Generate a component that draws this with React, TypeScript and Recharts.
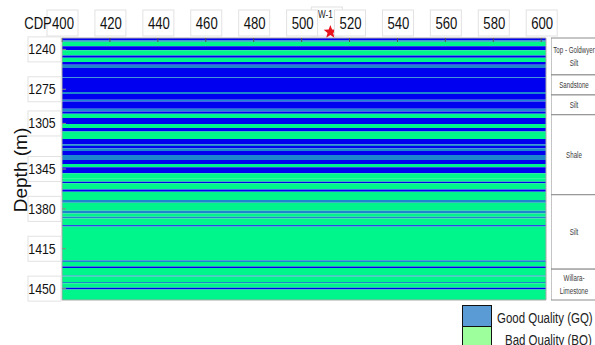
import React from "react";
import { ComposedChart, XAxis, YAxis, ReferenceArea, Scatter } from "recharts";

const cdpTicks = [400, 420, 440, 460, 480, 500, 520, 540, 560, 580, 600];
const depthTicks = [1240, 1275, 1305, 1345, 1380, 1415, 1450];

const bandEdges = [
  1230, 1231.9, 1233.3, 1237.2, 1240.8, 1245.4, 1247.4, 1251.0, 1253.4, 1256.3,
  1264.4, 1265.2, 1277.4, 1279.2, 1284.2, 1285.7, 1292.1, 1294.5, 1296.5, 1300.3,
  1305.6, 1309.1, 1312.1, 1318.6, 1323.2, 1324.7, 1326.8, 1329.1, 1332.7, 1337.1,
  1340.6, 1343.5, 1348.8, 1353.2, 1356.2, 1357.6, 1362.9, 1365.0, 1372.3, 1374.7,
  1381.7, 1384.0, 1387.0, 1388.4, 1394.3, 1395.5, 1425.2, 1426.7, 1430.5, 1432.0,
  1438.4, 1439.3, 1444.3, 1445.2, 1449.2, 1450.7, 1460,
];
const bandClass = [
  "GQ", "MX", "BQ", "GQ", "BQ", "GQ", "BQ", "GQ", "MX", "GQ",
  "MX", "GQ", "MX", "GQ", "MX", "GQ", "MX", "GQ", "BQ", "GQ",
  "BQ", "GQ", "BQ", "GQ", "MX", "GQ", "MX", "GQ", "MX", "GQ",
  "BQ", "GQ", "BQ", "BQ", "GQ", "BQ", "GQ", "BQ", "MX", "BQ",
  "MX", "BQ", "MX", "BQ", "GQ", "BQ", "MX", "BQ", "GQ", "BQ",
  "MX", "BQ", "MX", "BQ", "GQ", "BQ",
];

const wells = [{ name: "W-1", cdp: 512, depth: 1230 }];

const unitTop = [1230, 1262.4, 1280.0, 1297.4, 1367.6, 1432.9];
const unitBase = [1262.4, 1280.0, 1297.4, 1367.6, 1432.9, 1460];
const unitLabel = [
  ["Top - Goldwyer", "Silt"],
  ["Sandstone"],
  ["Silt"],
  ["Shale"],
  ["Silt"],
  ["Willara-", "Limestone"],
];

const legendLabels = ["Good Quality (GQ)", "Bad Quality (BQ)"];
const legendColors = ["#5B9BD5", "#9CFF9C"];

const colors: Record<string, string> = { GQ: "#0000F0", BQ: "#00F58A", MX: "#1E86CC" };
// Liberation Sans squeezed horizontally stands in for a narrow font
const FONT = '"Liberation Sans", Arial, sans-serif';
const SQUEEZE = 0.82;
const PLOT_TOP = 38;
const PLOT_BOTTOM = 300;
const PLOT_LEFT = 62;

function NarrowText({ x, y, size, children, scale = SQUEEZE, anchor = "middle", fill = "#111" }: any) {
  return (
    <text
      transform={`translate(${x} ${y}) scale(${scale} 1)`}
      textAnchor={anchor}
      dominantBaseline="central"
      fontSize={size}
      fontFamily={FONT}
      fill={fill}
    >
      {children}
    </text>
  );
}

function CdpTick({ x, payload }: any) {
  return (
    <g>
      <rect x={x - 15} y={10} width={31} height={26} fill="#fff" stroke="#e2e2e2" />
      <NarrowText x={x + 1} y={24} size={16}>
        {payload.value}
      </NarrowText>
      <line x1={x} x2={x} y1={PLOT_TOP} y2={PLOT_TOP + 4} stroke="#555" />
    </g>
  );
}

function BottomTick({ x }: any) {
  return <line x1={x} x2={x} y1={PLOT_BOTTOM - 4} y2={PLOT_BOTTOM} stroke="#777" />;
}

function DepthTick({ y, payload }: any) {
  return (
    <g>
      <rect x={28} y={y - 12.5} width={33} height={25} fill="#fff" stroke="#e2e2e2" />
      <NarrowText x={42} y={y} size={15}>
        {payload.value}
      </NarrowText>
      <line x1={PLOT_LEFT} x2={PLOT_LEFT + 4} y1={y} y2={y} stroke="#888" />
    </g>
  );
}

function WellMarker({ cx, cy, payload }: any) {
  const r = 7;
  const pts = [];
  for (let i = 0; i < 10; i++) {
    const a = -Math.PI / 2 + (i * Math.PI) / 5;
    const rr = i % 2 === 0 ? r : r * 0.42;
    pts.push(`${cx + rr * Math.cos(a)},${cy - 6 + rr * Math.sin(a)}`);
  }
  return (
    <g>
      <rect x={cx - 19} y={7} width={31} height={29} fill="#fff" stroke="#e2e2e2" />
      <NarrowText x={cx - 5} y={15} size={10} fill="#222">
        {payload.name}
      </NarrowText>
      <polygon points={pts.join(" ")} fill="#E8141E" />
    </g>
  );
}

function UnitText({ cx, cy, payload }: any) {
  const lines: string[] = payload.lines;
  return (
    <g>
      {lines.map((t, i) => (
        <NarrowText key={i} x={cx} y={cy + (i - (lines.length - 1) / 2) * 12.5} size={9.5} scale={0.65} fill="#3a3a3a">
          {t}
        </NarrowText>
      ))}
    </g>
  );
}

export default function App() {
  const units = unitLabel.map((lines, i) => ({
    pos: 0.5,
    mid: (unitTop[i] + unitBase[i]) / 2,
    lines,
  }));
  return (
    <div style={{ position: "absolute", left: 0, top: 0, width: 595, height: 345, overflow: "hidden", background: "#fff" }}>
      <div style={{ position: "absolute", left: 0, top: 0 }}>
        <ComposedChart width={595} height={345} margin={{ top: 0, right: 49, bottom: 44, left: 0 }}>
          <XAxis
            type="number"
            dataKey="cdp"
            orientation="top"
            domain={[400, 602]}
            ticks={cdpTicks}
            interval={0}
            height={PLOT_TOP}
            tick={<CdpTick />}
            tickLine={false}
            axisLine={false}
          />
          <XAxis
            xAxisId="b"
            type="number"
            orientation="bottom"
            domain={[400, 602]}
            ticks={cdpTicks}
            interval={0}
            height={1}
            tick={<BottomTick />}
            tickLine={false}
            axisLine={false}
          />
          <YAxis
            type="number"
            dataKey="depth"
            reversed
            domain={[1230, 1460]}
            ticks={depthTicks}
            interval={0}
            width={PLOT_LEFT}
            tick={<DepthTick />}
            tickLine={false}
            axisLine={false}
          />
          {bandClass.map((c, i) => (
            <ReferenceArea
              key={i}
              x1={400}
              x2={602}
              y1={bandEdges[i]}
              y2={bandEdges[i + 1]}
              fill={colors[c]}
              fillOpacity={1}
              stroke="none"
            />
          ))}
          <ReferenceArea x1={400} x2={602} y1={1230} y2={1460} fill="none" stroke="#a8a8a8" />
          <Scatter data={wells} dataKey="depth" shape={<WellMarker />} isAnimationActive={false} />
        </ComposedChart>
      </div>
      <div style={{ position: "absolute", left: 551, top: 0 }}>
        <ComposedChart width={46} height={345} margin={{ top: PLOT_TOP, right: 0, bottom: 45, left: 0 }}>
          <XAxis type="number" dataKey="pos" hide domain={[0, 1]} />
          <YAxis type="number" dataKey="mid" hide reversed domain={[1230, 1460]} />
          {unitLabel.map((_, i) => (
            <ReferenceArea
              key={i}
              x1={0}
              x2={1}
              y1={unitTop[i]}
              y2={unitBase[i]}
              fill="#fff"
              fillOpacity={1}
              stroke="#8c8c8c"
            />
          ))}
          <Scatter data={units} dataKey="mid" shape={<UnitText />} isAnimationActive={false} />
        </ComposedChart>
      </div>
      <svg width={40} height={120} style={{ position: "absolute", left: 0, top: 110 }}>
        <g transform="rotate(-90 20 60)">
          <NarrowText x={20} y={60} size={19} scale={1}>
            Depth (m)
          </NarrowText>
        </g>
      </svg>
      <svg width={30} height={40} style={{ position: "absolute", left: 24, top: 4 }}>
        <NarrowText x={14} y={20} size={16}>
          CDP
        </NarrowText>
      </svg>
      {legendLabels.map((t, i) => (
        <React.Fragment key={t}>
          <div
            style={{
              position: "absolute",
              left: 462,
              top: 305 + i * 21,
              width: 30,
              height: 22,
              boxSizing: "border-box",
              border: "1.5px solid #111",
              background: legendColors[i],
            }}
          />
          <div
            style={{
              position: "absolute",
              left: i === 0 ? 497 : 505,
              top: 308 + i * 22,
              fontFamily: FONT,
              fontSize: 14,
              lineHeight: "20px",
              color: "#222",
              whiteSpace: "nowrap",
              transform: `scaleX(${SQUEEZE})`,
              transformOrigin: "left center",
            }}
          >
            {t}
          </div>
        </React.Fragment>
      ))}
    </div>
  );
}
